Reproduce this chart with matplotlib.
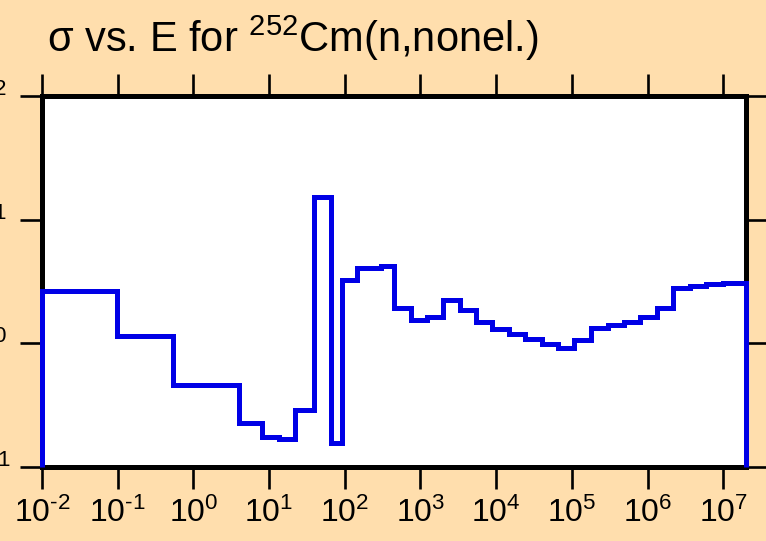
import matplotlib
matplotlib.use("Agg")
import matplotlib.pyplot as plt
import numpy as np
from matplotlib.ticker import NullLocator, LogLocator, FuncFormatter

plt.rcParams['font.family'] = ['Liberation Sans', 'DejaVu Sans']
plt.rcParams['mathtext.fontset'] = 'custom'
plt.rcParams['mathtext.rm'] = 'Liberation Sans'
plt.rcParams['mathtext.it'] = 'Liberation Sans:italic'
plt.rcParams['mathtext.bf'] = 'Liberation Sans:bold'
plt.rcParams['axes.unicode_minus'] = False

# Group boundaries (eV) and cross sections (b)
energy_edges = [1e-2, 0.0984, 0.532, 3.97, 8.1, 13.7, 22.3, 39.7, 66.4, 90.8,
                147, 299, 448, 743, 1208, 1995, 3311, 5420, 8810, 14600,
                24200, 40100, 66400, 1.08e5, 1.79e5, 2.96e5, 4.91e5, 8.04e5,
                1.32e6, 2.18e6, 3.62e6, 5.94e6, 9.84e6, 2e7]
sigma = [2.647, 1.152, 0.460, 0.2256, 0.1758, 0.1675, 0.289, 15.31, 0.1555,
         3.249, 4.04, 4.24, 1.919, 1.543, 1.641, 2.239, 1.859, 1.495, 1.298,
         1.183, 1.077, 0.987, 0.911, 1.063, 1.337, 1.406, 1.487, 1.623, 1.940,
         2.784, 2.922, 2.999, 3.09]

title = "σ vs. E for $^{252}$Cm(n,nonel.)"


def pow10_label(v, pos):
    e = int(round(np.log10(v)))
    if e < 0:
        return r"$\mathdefault{10^{\text{-}%d}}$" % (-e)
    return r"$\mathdefault{10^{%d}}$" % e


W, H = 766, 541
fig = plt.figure(figsize=(W / 100, H / 100), dpi=100, facecolor='#FFDEAD')
ax = fig.add_axes([42 / W, (H - 467) / H, (746 - 42) / W, (467 - 96) / H])
ax.set_facecolor('white')
ax.set_xscale('log')
ax.set_yscale('log')
ax.set_xlim(1e-2, 2e7)
ax.set_ylim(0.1, 100)

ax.stairs(sigma, energy_edges, baseline=0.1, color='#0000E6', lw=3.6,
          clip_on=False, zorder=5)

ax.xaxis.set_major_locator(LogLocator(base=10, numticks=20))
ax.yaxis.set_major_locator(LogLocator(base=10, numticks=20))
ax.xaxis.set_minor_locator(NullLocator())
ax.yaxis.set_minor_locator(NullLocator())
ax.xaxis.set_major_formatter(FuncFormatter(pow10_label))
ax.yaxis.set_major_formatter(FuncFormatter(pow10_label))

for s in ax.spines.values():
    s.set_linewidth(3.6)
    s.set_color('black')

ticklen = 22 * 0.72
ax.tick_params(axis='both', which='major', direction='out', top=True, right=True,
               labeltop=False, labelright=False, length=ticklen, width=1.9,
               color='black', labelsize=23)
ax.tick_params(axis='x', pad=6)
ax.tick_params(axis='y', pad=27)
for lab in ax.get_yticklabels():
    lab.set_horizontalalignment('center')

fig.text(47 / W, 1 - 52 / H, title, fontsize=30, ha='left', va='baseline')

fig.savefig('out.png', dpi=100, facecolor=fig.get_facecolor())
